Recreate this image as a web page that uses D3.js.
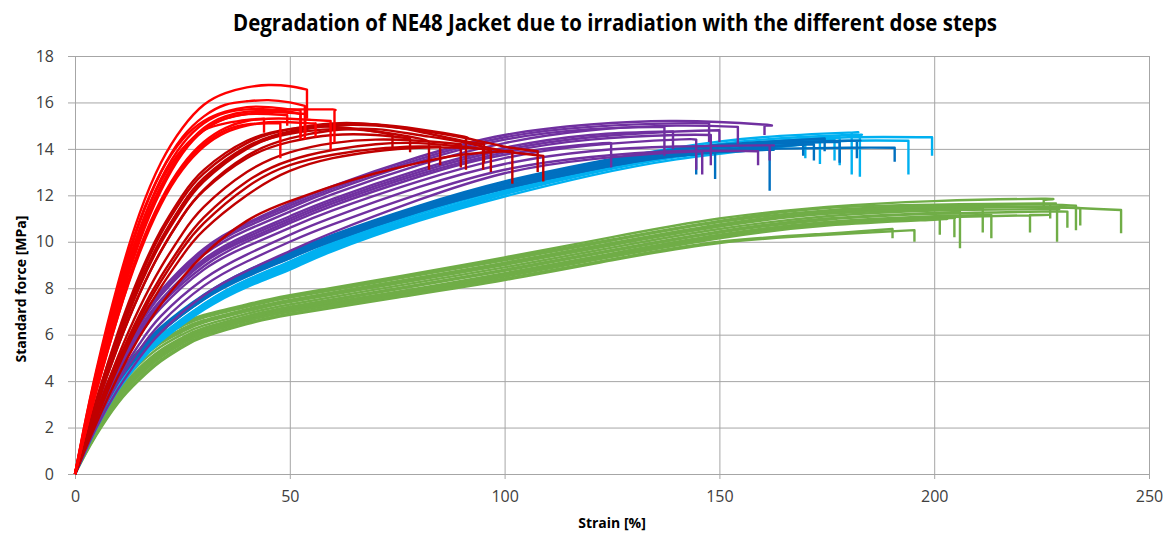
<!DOCTYPE html>
<html><head><meta charset="utf-8">
<script src="https://cdn.jsdelivr.net/npm/d3@7"></script>
<style>
body{margin:0;background:#fff;}
svg{display:block;}
</style></head>
<body><svg id="c" width="1166" height="537"></svg>
<script>
// ---- Data ----
const titleText = "Degradation of NE48 Jacket due to irradiation with the different dose steps";
const xLabel = "Strain [%]";
const yLabel = "Standard force [MPa]";
const xTicks = [0, 50, 100, 150, 200, 250];
const yTicks = [0, 2, 4, 6, 8, 10, 12, 14, 16, 18];

// Green group
const greenStrain = [0,2,5,10,15,20,25,30,40,50,75,100,125,150,175,200,225];
const greenCurves = [
  [0,1.25,2.65,4.25,5.35,6.05,6.5,6.85,7.3,7.7,8.5,9.33,10.2,11.0,11.5,11.75,11.85],
  [0,1.22,2.59,4.18,5.27,5.98,6.44,6.79,7.25,7.65,8.45,9.27,10.1,10.9,11.45,11.6,11.65],
  [0,1.18,2.53,4.11,5.19,5.91,6.37,6.74,7.2,7.6,8.4,9.2,10.05,10.85,11.35,11.55,11.6],
  [0,1.09,2.37,3.9,4.97,5.7,6.2,6.57,7.05,7.45,8.25,9.05,9.9,10.7,11.25,11.45,11.5],
  [0,1.12,2.41,3.96,5.04,5.76,6.25,6.62,7.1,7.5,8.3,9.1,9.95,10.75,11.3,11.5,11.5],
  [0,1.06,2.31,3.83,4.9,5.63,6.13,6.52,7.0,7.4,8.2,9.0,9.85,10.65,11.2,11.4],
  [0,0.99,2.19,3.69,4.74,5.49,6.01,6.4,6.9,7.3,8.1,8.9,9.75,10.55,11.1,11.35,11.4],
  [0,0.93,2.07,3.54,4.58,5.34,5.88,6.29,6.8,7.2,8.0,8.8,9.65,10.45,11.0,11.25],
  [0,0.89,2.01,3.47,4.5,5.27,5.82,6.23,6.75,7.15,7.95,8.75,9.6,10.4,10.95,11.2,11.3],
  [0,0.86,1.95,3.4,4.43,5.2,5.75,6.18,6.7,7.1,7.85,8.65,9.5,10.3,10.85,11.1],
  [0,0.83,1.9,3.34,4.36,5.14,5.7,6.13,6.65,7.05,7.8,8.6,9.45,10.25,10.8,11.05,11.15],
  [0,0.8,1.84,3.27,4.28,5.07,5.64,6.07,6.6,7.0,7.75,8.55,9.4,10.2,10.75,11.0],
  [0,0.78,1.82,3.23,4.25,5.03,5.61,6.04,6.58,7.0,7.7,8.5,9.35,10.15,10.7,10.95],
  [0,0.7,1.68,3.05,4.05,4.85,5.45,5.9,6.45,6.85,7.6,8.35,9.2,9.95,10.3],
  [0,0.73,1.74,3.12,4.13,4.92,5.51,5.96,6.5,6.9,7.65,8.42,9.25,10.0,10.35]
];
// [break strain, stress at break, stress after drop]
const greenBreaks = [
  [225.5,11.8,11.5],[227,11.65,11.0],[233,11.55,10.5],[234,11.45,10.7],[243.5,11.37,10.37],
  [211.3,11.45,10.4],[228.6,11.4,10.0],[206,11.3,9.72],[231,11.3,10.6],[213.3,11.15,10.15],
  [222.3,11.15,10.4],[204.7,11.0,10.2],[201.3,11.0,10.3],[195.4,10.5,10.0],[190.3,10.55,10.15]
];

// Light blue and blue groups share a strain grid
const blueStrain = [0,2,5,10,15,20,30,40,50,60,80,100,120,140,160,180];
const lightBlueCurves = [
  [0,0.89,2.15,3.8,5.0,5.92,7.32,8.35,9.1,9.9,11.2,12.3,13.2,13.9,14.3,14.5],
  [0,0.86,2.1,3.75,4.95,5.87,7.22,8.25,9.0,9.8,11.1,12.2,13.1,13.8,14.2,14.35],
  [0,0.89,2.15,3.8,5.05,5.97,7.32,8.35,9.15,9.95,11.3,12.4,13.35,14.05,14.5,14.7],
  [0,0.87,2.1,3.75,4.95,5.87,7.27,8.3,9.05,9.85,11.2,12.3,13.25,13.95,14.4,14.6],
  [0,0.84,2.05,3.7,4.9,5.82,7.17,8.2,8.95,9.75,11.05,12.15,13.05,13.75,14.2],
  [0,0.82,2.0,3.65,4.85,5.77,7.12,8.1,8.85,9.65,10.95,12.05,12.95,13.65,14.1],
  [0,0.84,2.05,3.7,4.9,5.82,7.17,8.15,8.9,9.7,11.0,12.1,13.0,13.7,14.25],
  [0,0.81,1.98,3.6,4.8,5.72,7.07,8.05,8.8,9.6,10.9,11.95,12.85,13.55,14.0]
];
const lightBlueBreaks = [
  [199.5,14.5,13.7],[194,14.35,12.9],[180.8,14.7,12.9],[182.7,14.6,12.8],
  [176.8,14.4,13.5],[173.4,14.3,13.35],[178,14.5,13.3],[170,14.2,13.6]
];
const blueCurves = [
  [0,0.99,2.35,4.15,5.35,6.32,7.72,8.75,9.55,10.3,11.55,12.6,13.4,14.0,14.3],
  [0,0.94,2.25,4.05,5.25,6.22,7.62,8.65,9.45,10.2,11.45,12.5,13.3,13.85,14.0,14.05],
  [0,0.94,2.25,4.0,5.2,6.17,7.57,8.6,9.4,10.15,11.4,12.4,13.2,13.75],
  [0,0.92,2.2,3.95,5.15,6.12,7.52,8.55,9.3,10.05,11.3,12.3,13.1,13.7,13.95],
  [0,0.96,2.3,4.1,5.3,6.27,7.67,8.7,9.5,10.25,11.5,12.5,13.3,13.7],
  [0,0.94,2.25,4.05,5.25,6.22,7.62,8.65,9.4,10.15,11.4,12.4,13.25,13.85,14.2],
  [0,0.91,2.2,3.95,5.15,6.12,7.52,8.5,9.3,10.05,11.3,12.3,13.1,13.7,14.05],
  [0,0.97,2.3,4.1,5.3,6.27,7.67,8.7,9.5,10.25,11.5,12.55,13.35,13.95,14.25,14.35],
  [0,0.94,2.25,4.0,5.2,6.17,7.57,8.6,9.35,10.1,11.35,12.35,13.15,13.75,14.1]
];
const blueBreaks = [
  [174.5,14.45,13.9],[190.8,14.05,13.45],[149,13.85,12.7],[161.7,13.95,12.2],[144.6,13.75,12.9],
  [178,14.3,13.4],[169.5,14.2,13.7],[182,14.35,13.6],[172,14.2,13.5]
];

// Purple group
const purpleStrain = [0,2,5,10,15,20,30,40,50,60,80,100,120,140,160];
const purpleCurves = [
  [0,1.1,2.75,4.9,6.6,7.9,9.7,10.8,11.65,12.4,13.65,14.6,15.05,15.2,15.05],
  [0,1.05,2.65,4.75,6.4,7.7,9.45,10.5,11.3,12.05,13.3,14.25,14.8,15.0],
  [0,1.0,2.55,4.55,6.15,7.4,9.1,10.1,10.9,11.65,12.9,13.85,14.4,14.6],
  [0,0.95,2.45,4.4,5.95,7.15,8.8,9.8,10.6,11.35,12.6,13.6,14.15,14.4],
  [0,1.05,2.7,4.8,6.45,7.75,9.55,10.65,11.45,12.2,13.45,14.4,14.85],
  [0,1.0,2.6,4.65,6.25,7.5,9.25,10.3,11.1,11.85,13.1,14.05,14.6],
  [0,1.0,2.5,4.5,6.05,7.3,8.95,10.0,10.8,11.55,12.8,13.75,14.2],
  [0,0.9,2.3,4.15,5.6,6.8,8.4,9.45,10.3,11.05,12.35,13.35,13.9,14.1,14.15],
  [0,0.85,2.2,3.95,5.35,6.5,8.1,9.15,10.0,10.75,12.05,13.1,13.65,13.9],
  [0,1.1,2.7,4.85,6.55,7.85,9.65,10.75,11.55,12.3,13.55,14.5,14.95,15.1],
  [0,0.8,2.0,3.65,5.0,6.1,7.7,8.75,9.6,10.4,11.8,12.95,13.55,13.85],
  [0,1.0,2.5,4.5,6.15,7.4,9.15,10.2,11.0,11.75,13.0,13.95,14.5,14.75]
];
const purpleBreaks = [
  [160.5,15.0,14.6],[154.3,14.95,14.2],[148,14.6,13.3],[144.6,14.4,13.1],[137.2,14.95,13.7],
  [139.2,14.75,14.0],[124.8,14.25,13.2],[161.7,14.15,13.5],[159,13.9,13.3],[147.6,15.1,14.3],
  [146,13.9,12.9],[150,14.8,14.3]
];

// Dark red group
const darkRedStrain = [0,2,5,10,15,20,25,30,40,50,60,70,80,90,100,110];
const darkRedCurves = [
  [0,1.3,3.2,6.0,8.4,10.35,11.85,12.95,14.25,14.85,15.1,15.05,14.75,14.35],
  [0,1.2,3.0,5.7,8.05,9.95,11.45,12.6,14.0,14.7,15.0,15.0,14.8,14.5,14.1],
  [0,1.15,2.9,5.5,7.75,9.6,11.1,12.25,13.7,14.45,14.8,14.85,14.6,14.3,13.9],
  [0,1.25,3.1,5.85,8.2,10.1,11.6,12.7,14.05,14.65,14.85,14.75,14.45],
  [0,1.05,2.65,5.05,7.15,8.9,10.35,11.5,13.0,13.85,14.25,14.4,14.35],
  [0,1.3,3.2,6.1,8.55,10.5,12.0,13.1,14.35,14.85,14.95,14.75],
  [0,1.15,2.9,5.5,7.75,9.6,11.1,12.2,13.6,14.3,14.6,14.6],
  [0,1.0,2.55,4.85,6.85,8.5,9.9,11.05,12.6,13.5,13.95,14.2,14.25,14.1],
  [0,0.98,2.5,4.75,6.7,8.3,9.7,10.8,12.35,13.3,13.75,14.0,14.1],
  [0,0.9,2.2,4.2,5.9,7.3,8.45,9.45,10.9,11.75,12.4,12.95,13.4,13.75,13.9],
  [0,1.25,3.05,5.8,8.15,10.05,11.6,12.75,14.1,14.75,15.05,15.05,14.85,14.55],
  [0,0.95,2.4,4.6,6.5,8.05,9.4,10.5,12.0,13.05,13.6,13.9,14.05,14.05]
];
const darkRedBreaks = [
  [95.2,14.2,13.4],[107.7,13.9,13.0],[109,13.7,12.6],[82.4,14.3,13.1],[89.8,14.2,13.2],
  [73.9,14.6,14.0],[78,14.45,13.85],[96.8,13.95,13.0],[85,14.1,13.3],[101.8,13.9,12.5],
  [91,14.45,13.1],[95,14.0,13.1]
];

// Red group
const redStrain = [0,2,5,10,15,20,25,30,35,40,45,50,55,60];
const redCurves = [
  [0,1.9,4.5,8.2,11.2,13.4,14.9,15.9,16.4,16.65,16.75,16.7],
  [0,1.8,4.3,7.8,10.8,13.0,14.5,15.4,15.9,16.05,16.1,16.0],
  [0,1.7,4.1,7.6,10.5,12.7,14.2,15.1,15.55,15.7,15.7,15.6],
  [0,1.6,3.9,7.2,10.1,12.3,13.9,14.9,15.4,15.6,15.65,15.7,15.7,15.7],
  [0,1.5,3.7,6.9,9.7,11.8,13.3,14.3,14.9,15.2,15.3,15.3,15.25],
  [0,1.5,3.6,6.8,9.6,11.7,13.2,14.2,14.8,15.05,15.1],
  [0,1.7,4.0,7.4,10.3,12.4,13.9,14.8,15.3,15.5,15.5],
  [0,1.6,3.8,7.1,10.0,12.2,13.8,14.8,15.3,15.5,15.6,15.55],
  [0,1.9,4.4,8.0,10.9,13.0,14.4,15.2,15.6,15.8,15.8,15.7],
  [0,1.5,3.6,6.8,9.5,11.6,13.1,14.1,14.7,15.0,15.15,15.15,15.1],
  [0,1.8,4.2,7.6,10.5,12.6,14.0,14.8,15.1,15.25]
];
const redBreaks = [
  [54,16.55,15.3],[53.5,15.85,14.4],[52.5,15.5,14.5],[60.4,15.65,14.25],[59.5,15.2,13.95],
  [47.8,15.1,13.6],[49.4,15.45,15.0],[53.6,15.5,14.6],[52.5,15.65,14.4],[56,15.1,14.5],
  [44,15.3,14.7]
];

const groups = [
  {strain: greenStrain, curves: greenCurves, breaks: greenBreaks, color: "#70AD47"},
  {strain: blueStrain, curves: lightBlueCurves, breaks: lightBlueBreaks, color: "#00B0F0"},
  {strain: blueStrain, curves: blueCurves, breaks: blueBreaks, color: "#0070C0"},
  {strain: purpleStrain, curves: purpleCurves, breaks: purpleBreaks, color: "#7030A0"},
  {strain: darkRedStrain, curves: darkRedCurves, breaks: darkRedBreaks, color: "#C00000"},
  {strain: redStrain, curves: redCurves, breaks: redBreaks, color: "#FF0000"}
];

// ---- Drawing ----
const svg = d3.select("#c");
const L = 75, R = 1149, T = 56, B = 474;
const x = d3.scaleLinear().domain([0, 250]).range([L, R]);
const y = d3.scaleLinear().domain([0, 18]).range([B, T]);
const gridColor = "#a6a6a6";
const fontFam = "'Open Sans', 'Liberation Sans', sans-serif";

// Y axis with gridlines
const gy = svg.append("g").attr("transform", `translate(${L - 7},0)`)
  .call(d3.axisLeft(y).tickValues(yTicks).tickSize(-(R - L + 7)).tickPadding(14).tickSizeOuter(0));
gy.select(".domain").remove();
gy.selectAll(".tick line").attr("stroke", gridColor).attr("stroke-width", 1);
gy.selectAll(".tick text").attr("font-family", fontFam).attr("font-size", 16).attr("fill", "#404040");

// X axis with gridlines
const gx = svg.append("g").attr("transform", `translate(0,${B + 5})`)
  .call(d3.axisBottom(x).tickValues(xTicks).tickSize(-(B + 5 - T)).tickPadding(12).tickSizeOuter(0));
gx.select(".domain").remove();
gx.selectAll(".tick line").attr("stroke", gridColor).attr("stroke-width", 1);
gx.selectAll(".tick text").attr("font-family", fontFam).attr("font-size", 16).attr("fill", "#404040");

// Curves
const line = d3.line().x(d => x(d[0])).y(d => y(d[1])).curve(d3.curveNatural);
const plot = svg.append("g");
groups.forEach(g => {
  g.curves.forEach((vals, i) => {
    const br = g.breaks[i];
    const pts = vals.map((v, j) => [g.strain[j], v]);
    pts.push([br[0], br[1]]);
    const d = line(pts) + "L" + x(br[0]) + "," + y(br[2]);
    plot.append("path").attr("d", d)
      .attr("fill", "none").attr("stroke", g.color)
      .attr("stroke-width", 2.4).attr("stroke-linejoin", "round");
  });
});

// Title
svg.append("text").attr("x", 615).attr("y", 31).attr("text-anchor", "middle")
  .attr("font-family", "'Liberation Sans Narrow', 'Open Sans', sans-serif").attr("font-weight", "bold")
  .attr("font-size", 23).attr("fill", "#000")
  .attr("textLength", 764).attr("lengthAdjust", "spacingAndGlyphs")
  .text(titleText);

// Axis titles
svg.append("text").attr("x", (L + R) / 2).attr("y", 528).attr("text-anchor", "middle")
  .attr("font-family", fontFam).attr("font-weight", "bold").attr("font-size", 14).attr("fill", "#000")
  .text(xLabel);
svg.append("text").attr("transform", `translate(26,289) rotate(-90)`).attr("text-anchor", "middle")
  .attr("font-family", fontFam).attr("font-weight", "bold").attr("font-size", 14).attr("fill", "#000")
  .text(yLabel);
</script></body></html>
